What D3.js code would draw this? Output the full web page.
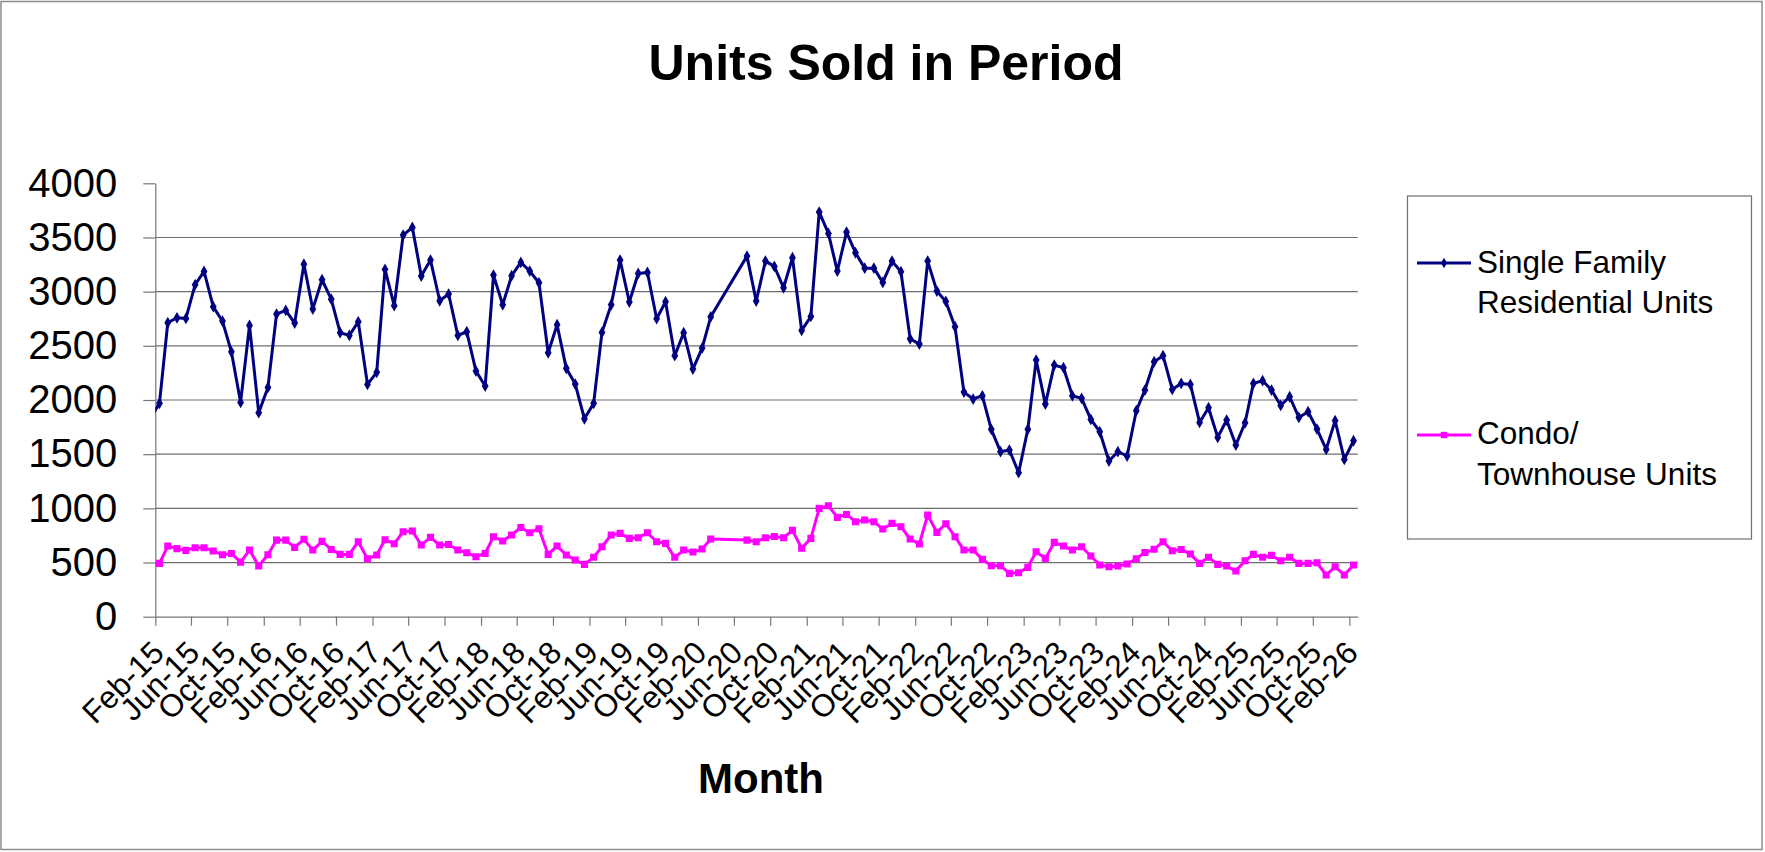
<!DOCTYPE html>
<html lang="en">
<head>
    <meta charset="UTF-8">
    <title>Units Sold in Period</title>
    <script src="https://d3js.org/d3.v7.min.js"></script>
    <style>
        body { margin: 0; background: #fff; }
        svg { display: block; font-family: "Liberation Sans", Arial, sans-serif; }
    </style>
</head>
<body>
    <svg id="chart" width="1765" height="852"></svg>

    <script>
        // Monthly categories (Apr-Jun 2020 have no data in the source)
        const months = [
            "Jan-15", "Feb-15", "Mar-15", "Apr-15", "May-15", "Jun-15", "Jul-15", "Aug-15", "Sep-15", "Oct-15", "Nov-15", "Dec-15",
            "Jan-16", "Feb-16", "Mar-16", "Apr-16", "May-16", "Jun-16", "Jul-16", "Aug-16", "Sep-16", "Oct-16", "Nov-16", "Dec-16",
            "Jan-17", "Feb-17", "Mar-17", "Apr-17", "May-17", "Jun-17", "Jul-17", "Aug-17", "Sep-17", "Oct-17", "Nov-17", "Dec-17",
            "Jan-18", "Feb-18", "Mar-18", "Apr-18", "May-18", "Jun-18", "Jul-18", "Aug-18", "Sep-18", "Oct-18", "Nov-18", "Dec-18",
            "Jan-19", "Feb-19", "Mar-19", "Apr-19", "May-19", "Jun-19", "Jul-19", "Aug-19", "Sep-19", "Oct-19", "Nov-19", "Dec-19",
            "Jan-20", "Feb-20", "Mar-20", "Apr-20", "May-20", "Jun-20", "Jul-20", "Aug-20", "Sep-20", "Oct-20", "Nov-20", "Dec-20",
            "Jan-21", "Feb-21", "Mar-21", "Apr-21", "May-21", "Jun-21", "Jul-21", "Aug-21", "Sep-21", "Oct-21", "Nov-21", "Dec-21",
            "Jan-22", "Feb-22", "Mar-22", "Apr-22", "May-22", "Jun-22", "Jul-22", "Aug-22", "Sep-22", "Oct-22", "Nov-22", "Dec-22",
            "Jan-23", "Feb-23", "Mar-23", "Apr-23", "May-23", "Jun-23", "Jul-23", "Aug-23", "Sep-23", "Oct-23", "Nov-23", "Dec-23",
            "Jan-24", "Feb-24", "Mar-24", "Apr-24", "May-24", "Jun-24", "Jul-24", "Aug-24", "Sep-24", "Oct-24", "Nov-24", "Dec-24",
            "Jan-25", "Feb-25", "Mar-25", "Apr-25", "May-25", "Jun-25", "Jul-25", "Aug-25", "Sep-25", "Oct-25", "Nov-25", "Dec-25",
            "Jan-26", "Feb-26"
        ];

        const singleFamily = [
            1830, 1969, 2713, 2759, 2753, 3064, 3187, 2861, 2728, 2445, 1978, 2688,
            1883, 2116, 2793, 2827, 2710, 3254, 2839, 3110, 2931, 2621, 2596, 2722,
            2144, 2255, 3205, 2870, 3522, 3593, 3144, 3291, 2916, 2978, 2596, 2630,
            2267, 2129, 3153, 2879, 3147, 3270, 3190, 3082, 2436, 2695, 2292, 2147,
            1827, 1969, 2624, 2879, 3291, 2904, 3168, 3177, 2750, 2907, 2409, 2621,
            2285, 2479, 2768, null, null, null, 3328, 2913, 3282, 3233, 3036, 3313,
            2642, 2771, 3734, 3537, 3190, 3550, 3359, 3217, 3217, 3085, 3282, 3184,
            2565, 2516, 3282, 3005, 2910, 2676, 2073, 2009, 2039, 1729, 1523, 1538,
            1329, 1729, 2369, 1962, 2322, 2298, 2039, 2015, 1821, 1707, 1437, 1523,
            1483, 1901, 2092, 2353, 2409, 2098, 2153, 2144, 1793, 1929, 1655, 1815,
            1584, 1790, 2153, 2178, 2092, 1950, 2030, 1839, 1892, 1732, 1544, 1809,
            1452, 1624
        ];

        const condoTownhouse = [
            485, 492, 652, 628, 612, 637, 637, 606, 572, 584, 504, 615,
            468, 572, 707, 707, 640, 714, 615, 695, 621, 575, 575, 692,
            535, 569, 710, 674, 784, 791, 661, 732, 661, 667, 615, 591,
            554, 584, 738, 698, 754, 824, 775, 812, 575, 652, 569, 523,
            483, 548, 646, 754, 769, 723, 729, 775, 692, 677, 548, 615,
            597, 624, 717, null, null, null, 707, 692, 729, 741, 729, 797,
            631, 723, 1000, 1024, 917, 944, 877, 892, 877, 809, 861, 831,
            717, 671, 938, 778, 858, 738, 615, 615, 529, 471, 471, 400,
            406, 455, 600, 538, 686, 652, 615, 646, 560, 477, 461, 468,
            486, 535, 592, 622, 692, 609, 621, 578, 492, 548, 483, 468,
            421, 517, 575, 548, 566, 517, 548, 492, 492, 498, 385, 461,
            385, 477
        ];

        const tickLabels = [
            "Feb-15", "Jun-15", "Oct-15", "Feb-16", "Jun-16", "Oct-16", "Feb-17", "Jun-17", "Oct-17",
            "Feb-18", "Jun-18", "Oct-18", "Feb-19", "Jun-19", "Oct-19", "Feb-20", "Jun-20", "Oct-20",
            "Feb-21", "Jun-21", "Oct-21", "Feb-22", "Jun-22", "Oct-22", "Feb-23", "Jun-23", "Oct-23",
            "Feb-24", "Jun-24", "Oct-24", "Feb-25", "Jun-25", "Oct-25", "Feb-26"
        ];

        const yTicks = [0, 500, 1000, 1500, 2000, 2500, 3000, 3500, 4000];

        const parseMonth = d3.timeParse("%b-%y");
        const fmtMonth = d3.timeFormat("%b-%y");

        const svg = d3.select('#chart');
        const plot = { left: 155.3, right: 1357.7, top: 183.3, bottom: 616.7 };
        const axisColor = '#777';
        const gridColor = '#6e6e6e';

        // outer chart border
        svg.append('rect')
            .attr('x', 1).attr('y', 1.5)
            .attr('width', 1761).attr('height', 848)
            .attr('fill', '#fff')
            .attr('stroke', '#8c8c8c')
            .attr('stroke-width', 1.5);

        // date axis, data sits mid-month
        const x = d3.scaleTime()
            .domain([parseMonth("Feb-15"), parseMonth("Mar-26")])
            .range([plot.left, plot.right]);

        const y = d3.scaleLinear()
            .domain([0, 4000])
            .range([plot.bottom, plot.top]);

        const monthDate = m => d3.timeDay.offset(parseMonth(m), 14);

        // gridlines (no line at the top value)
        svg.append('g')
            .selectAll('line')
            .data(yTicks.filter(v => v > 0 && v < 4000))
            .enter().append('line')
            .attr('x1', plot.left).attr('x2', plot.right)
            .attr('y1', d => y(d)).attr('y2', d => y(d))
            .attr('stroke', gridColor)
            .attr('stroke-width', 1.2);

        // y axis
        const yAxis = svg.append('g')
            .attr('transform', `translate(${plot.left},0)`)
            .call(d3.axisLeft(y)
                .tickValues(yTicks)
                .tickFormat(d3.format('d'))
                .tickSize(12)
                .tickSizeOuter(0)
                .tickPadding(26));
        yAxis.selectAll('line, path').attr('stroke', axisColor).attr('stroke-width', 1.2);
        yAxis.selectAll('text')
            .attr('fill', '#000')
            .style('font-size', '40px')
            .style('font-family', '"Liberation Sans", Arial, sans-serif');

        // x axis
        const xAxis = svg.append('g')
            .attr('transform', `translate(0,${plot.bottom})`)
            .call(d3.axisBottom(x)
                .tickValues(tickLabels.map(parseMonth))
                .tickFormat(fmtMonth)
                .tickSize(9)
                .tickSizeOuter(0));
        xAxis.selectAll('line, path').attr('stroke', axisColor).attr('stroke-width', 1.2);
        xAxis.selectAll('text')
            .attr('x', 0).attr('y', 0).attr('dy', 0)
            .attr('text-anchor', 'end')
            .attr('transform', 'translate(10,38) rotate(-45)')
            .attr('fill', '#000')
            .style('font-size', '31.5px')
            .style('font-family', '"Liberation Sans", Arial, sans-serif');

        // clip so the Jan-15 lead-in is cut at the axis
        svg.append('clipPath').attr('id', 'plotClip')
            .append('rect')
            .attr('x', plot.left).attr('y', plot.top - 10)
            .attr('width', plot.right - plot.left).attr('height', plot.bottom - plot.top + 10);

        const seriesList = [
            { name: 'Single Family Residential Units', lines: ['Single Family', 'Residential Units'],
              values: singleFamily, color: '#000080', marker: d3.symbolDiamond, size: 40 },
            { name: 'Condo/Townhouse Units', lines: ['Condo/', 'Townhouse Units'],
              values: condoTownhouse, color: '#FF00FF', marker: d3.symbolSquare, size: 50 }
        ];

        const line = d3.line()
            .x(d => x(d.date))
            .y(d => y(d.value));

        const plotG = svg.append('g').attr('clip-path', 'url(#plotClip)');

        seriesList.forEach(s => {
            const pts = months.map((m, i) => ({ date: monthDate(m), value: s.values[i] }))
                .filter(d => d.value !== null);

            plotG.append('path')
                .datum(pts)
                .attr('fill', 'none')
                .attr('stroke', s.color)
                .attr('stroke-width', 3)
                .attr('stroke-linejoin', 'round')
                .attr('d', line);

            plotG.selectAll(null)
                .data(pts)
                .enter().append('path')
                .attr('transform', d => `translate(${x(d.date)},${y(d.value)})`)
                .attr('d', d3.symbol().type(s.marker).size(s.size))
                .attr('fill', s.color);
        });

        // title and axis title
        svg.append('text')
            .attr('x', 886).attr('y', 80)
            .attr('text-anchor', 'middle')
            .style('font-size', '50px')
            .style('font-weight', 'bold')
            .text('Units Sold in Period');

        svg.append('text')
            .attr('x', 761).attr('y', 793)
            .attr('text-anchor', 'middle')
            .style('font-size', '42px')
            .style('font-weight', 'bold')
            .text('Month');

        // legend
        const legend = svg.append('g');
        legend.append('rect')
            .attr('x', 1407.5).attr('y', 196)
            .attr('width', 344).attr('height', 343)
            .attr('fill', '#fff')
            .attr('stroke', '#6e6e6e')
            .attr('stroke-width', 1.2);

        const legendRows = [{ y: 263, base: 272.7 }, { y: 435, base: 444 }];

        seriesList.forEach((s, i) => {
            const row = legendRows[i];
            legend.append('line')
                .attr('x1', 1417).attr('x2', 1471)
                .attr('y1', row.y).attr('y2', row.y)
                .attr('stroke', s.color)
                .attr('stroke-width', 2.8);
            legend.append('path')
                .attr('transform', `translate(1444,${row.y})`)
                .attr('d', d3.symbol().type(s.marker).size(s.size * 0.8))
                .attr('fill', s.color);
            legend.append('text')
                .attr('x', 1477).attr('y', row.base)
                .style('font-size', '31.5px')
                .selectAll('tspan')
                .data(s.lines)
                .enter().append('tspan')
                .attr('x', 1477)
                .attr('dy', (d, j) => j === 0 ? 0 : 40.6)
                .text(d => d);
        });
    </script>
</body>
</html>
